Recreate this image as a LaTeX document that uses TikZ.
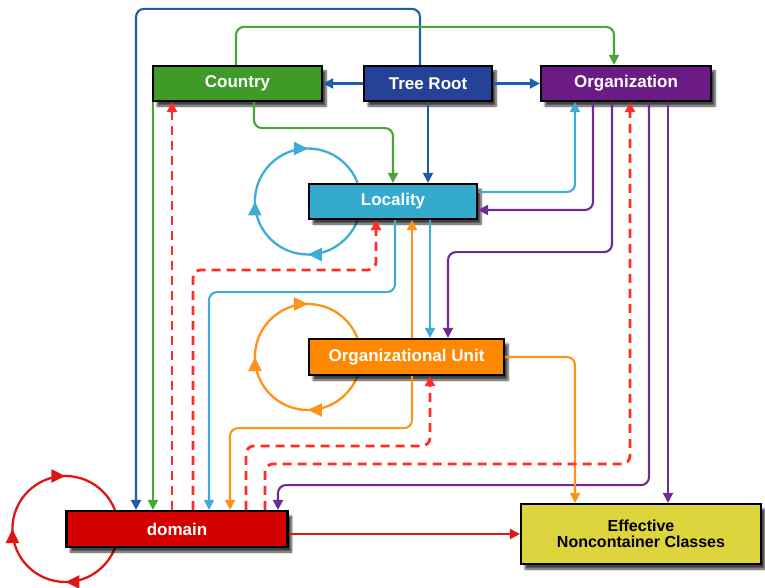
\documentclass[tikz,border=0pt]{standalone}
\usepackage{fontspec}
\setmainfont{Liberation Sans}
\usetikzlibrary{arrows.meta,shadows.blur,decorations.markings}
\definecolor{rootblue}{RGB}{36,66,152}
\definecolor{cntgreen}{RGB}{64,154,40}
\definecolor{orgpurple}{RGB}{106,28,132}
\definecolor{loccyan}{RGB}{52,170,205}
\definecolor{ouorange}{RGB}{255,136,0}
\definecolor{domred}{RGB}{212,0,0}
\definecolor{effyellow}{RGB}{222,213,62}
\definecolor{lineblue}{RGB}{32,92,172}
\definecolor{linegreen}{RGB}{72,166,52}
\definecolor{linecyan}{RGB}{62,172,212}
\definecolor{linepurple}{RGB}{112,42,152}
\definecolor{lineorange}{RGB}{255,146,24}
\definecolor{dashred}{RGB}{255,46,36}
\definecolor{linered}{RGB}{222,22,22}
\pgfdeclarelayer{back}
\pgfsetlayers{back,main}
\begin{document}
\begin{tikzpicture}[x=1pt, y=1pt,
    box/.style={draw=black, line width=2.2pt, minimum height=35pt, inner sep=0pt,
      text=white, font=\fontsize{17}{18}\selectfont\bfseries,
      blur shadow={shadow xshift=4pt, shadow yshift=-5pt, shadow blur steps=6, shadow opacity=75}},
    link/.style={line width=2.1pt, rounded corners=8pt, -{Triangle[length=10pt,width=10pt]}},
    dlink/.style={link, dashred, line width=2.8pt, dash pattern=on 9pt off 6pt},
    selfloop/.style={line width=2.3pt, postaction={decorate}, decoration={markings,
      mark=at position 0.25 with {\arrow{Triangle[length=14pt,width=13pt]}},
      mark=at position 0.5 with {\arrow{Triangle[length=14pt,width=13pt]}},
      mark=at position 0.75 with {\arrow{Triangle[length=14pt,width=13pt]}}}}]
    \useasboundingbox (0, 0) rectangle (765, -588);
    % boxes
    \node[box, fill=cntgreen, minimum width=169pt] (country) at (237.5, -83.5) {Country};
    \node[box, fill=rootblue, minimum width=128pt] (root) at (428, -83.5) {Tree Root};
    \node[box, fill=orgpurple, minimum width=170pt] (org) at (626, -83.5) {Organization};
    \node[box, fill=loccyan, minimum width=168pt] (loc) at (393, -201.5) {Locality};
    \node[box, fill=ouorange, minimum width=195pt, minimum height=36pt] (ou) at (406.5, -357) {Organizational Unit};
    \node[box, fill=domred, minimum width=221pt, minimum height=36pt] (dom) at (177, -529) {domain};
    \node[box, fill=effyellow, minimum width=240pt, minimum height=60pt, text=black,
      align=center, font=\fontsize{16}{16}\selectfont\bfseries] (eff) at (641, -534) {Effective\\Noncontainer Classes};
    % loops behind the boxes
    \begin{pgfonlayer}{back}
        \draw[selfloop, linecyan] (loc.west) ++(53, 0) arc[start angle=0, end angle=-360, radius=53];
        \draw[selfloop, lineorange] (ou.west) ++(53, 0) arc[start angle=0, end angle=-360, radius=53];
        \draw[selfloop, linered] (dom.west) ++(53, 0) arc[start angle=0, end angle=-360, radius=53];
    \end{pgfonlayer}
    % tree root
    \draw[link, lineblue] (root.west) -- (country.east);
    \draw[link, lineblue] (root.east) -- (org.west);
    \draw[link, lineblue] (root.south) -- (root.south |- loc.north);
    \draw[link, lineblue] ([xshift=-8]root.north) -- ++(0, 56) -| ([xshift=-41]dom.north);
    % country
    \draw[link, linegreen] ([xshift=-1.5]country.north) -- ++(0, 38) -| ([xshift=-12]org.north);
    \draw[link, linegreen] ([xshift=16.5]country.south) -- ++(0, -26) -| (loc.north);
    \draw[link, linegreen] ([xshift=1]country.south west) -- ([xshift=1]country.south west |- dom.north);
    % locality
    \draw[link, linecyan] ([yshift=9.5]loc.east) -| ([xshift=-51]org.south);
    \draw[link, linecyan] ([xshift=37]loc.south) -- ([xshift=37]loc.south |- ou.north);
    \draw[link, linecyan] ([xshift=2]loc.south) -- ++(0, -72) -| ([xshift=32]dom.north);
    % organization
    \draw[link, linepurple] ([xshift=-33]org.south) |- ([yshift=-8.5]loc.east);
    \draw[link, linepurple] ([xshift=-14]org.south) -- ++(0, -150) -| ([xshift=41.5]ou.north);
    \draw[link, linepurple] ([xshift=23]org.south) -- ++(0, -383) -| ([xshift=101]dom.north);
    \draw[link, linepurple] ([xshift=42]org.south) -- ([xshift=42]org.south |- eff.north);
    % organizational unit
    \draw[link, lineorange] ([xshift=5.5]ou.north) -- ([xshift=5.5]ou.north |- loc.south);
    \draw[link, lineorange] ([xshift=5.5]ou.south) -- ++(0, -52) -| ([xshift=53]dom.north);
    \draw[link, lineorange] (ou.east) -| ([xshift=-66]eff.north);
    % domain
    \draw[dlink] ([xshift=-5]dom.north) -- ([xshift=-5]dom.north |- country.south);
    \draw[dlink] ([xshift=16]dom.north) -- ++(0, 240) -| ([xshift=-17]loc.south);
    \draw[dlink] ([xshift=69]dom.north) -- ++(0, 64) -| ([xshift=23.5]ou.south);
    \draw[dlink] ([xshift=88]dom.north) -- ++(0, 46) -| ([xshift=4]org.south);
    \draw[link, linered] ([yshift=-5]dom.east) -- (eff.west);
\end{tikzpicture}
\end{document}
